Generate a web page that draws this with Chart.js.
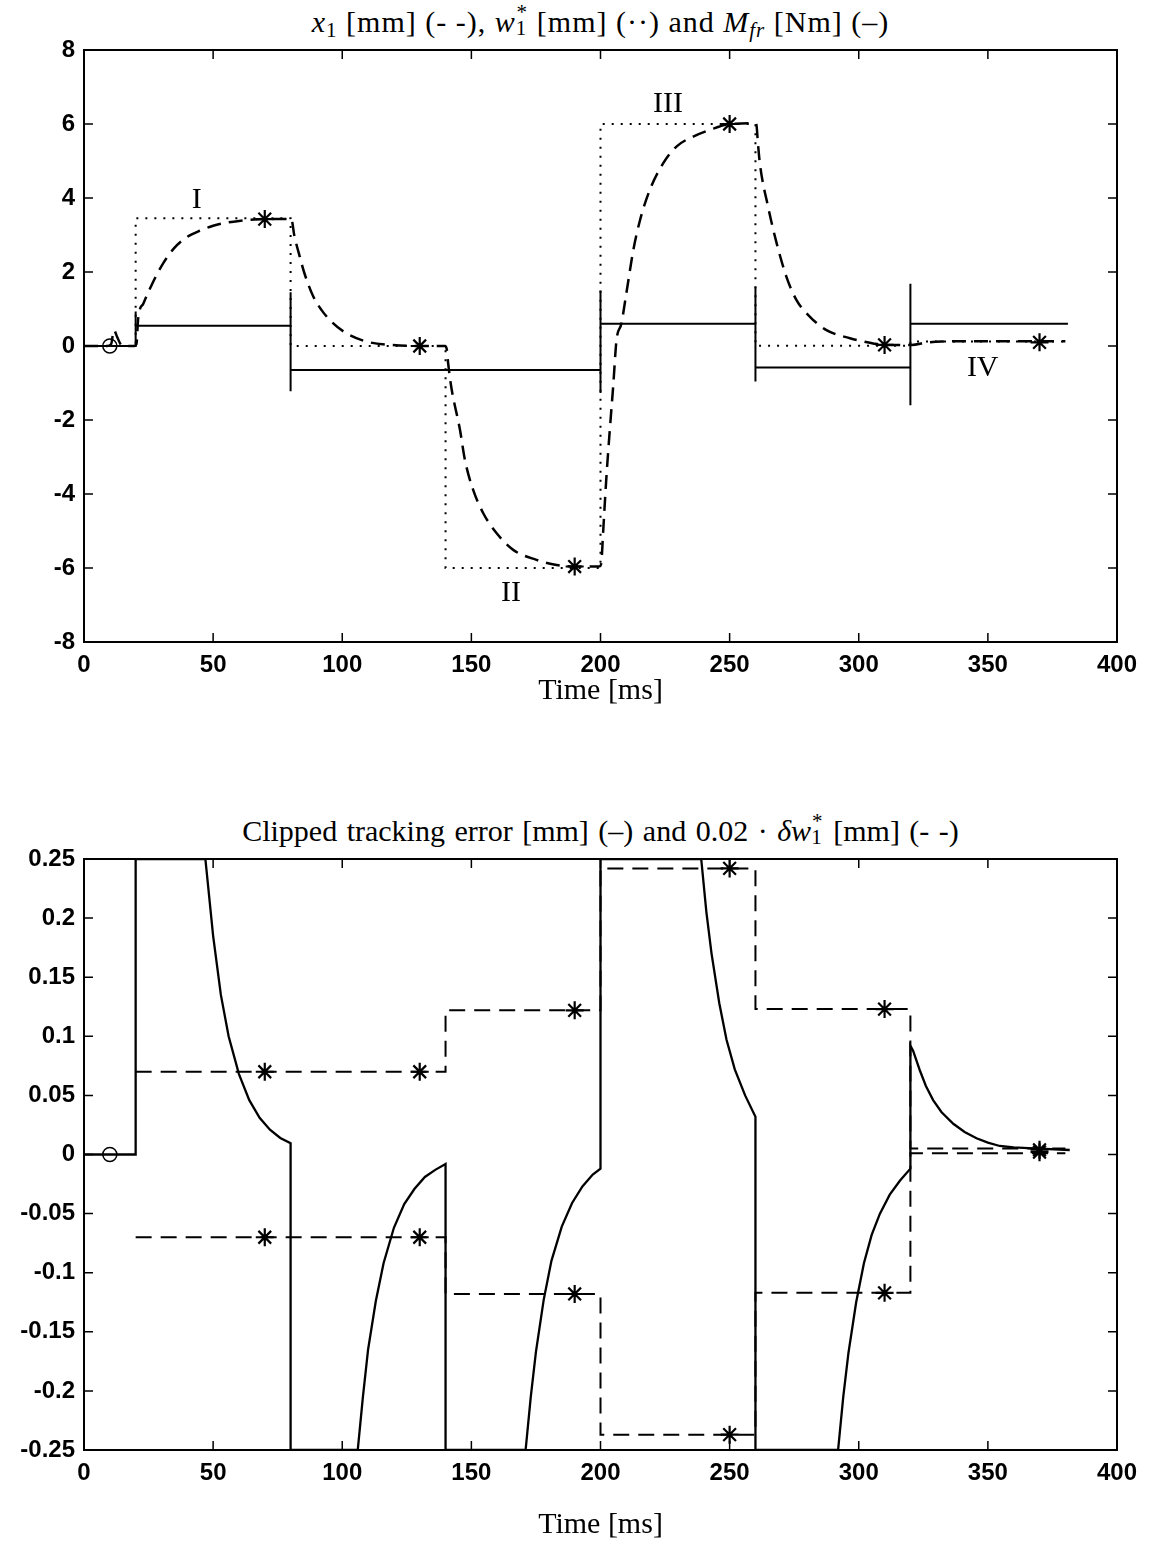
<!DOCTYPE html>
<html><head><meta charset="utf-8">
<script src="https://cdn.jsdelivr.net/npm/chart.js@4.4.1/dist/chart.umd.min.js"></script>
<style>
html,body{margin:0;padding:0;background:#fff;}
body{width:1154px;height:1545px;position:relative;overflow:hidden;}
canvas{position:absolute;left:0;}
.ttl{position:absolute;left:84px;width:1033px;text-align:center;font-family:"Liberation Serif",serif;font-size:30px;line-height:30px;color:#000;white-space:nowrap;}
.ttl sub{font-size:0.7em;vertical-align:-0.25em;line-height:0;}
.ss{display:inline-block;position:relative;width:0.42em;height:1em;vertical-align:baseline;}
.ss .up{position:absolute;left:0.04em;top:-0.02em;font-size:0.7em;line-height:1;}
.ss .dn{position:absolute;left:0;top:0.74em;font-size:0.7em;line-height:1;}
</style></head><body>
<div class="ttl" style="top:2px;letter-spacing:1px"><i>x</i><sub>1</sub> [mm] (- -), <i>w</i><span class="ss"><span class="up">*</span><span class="dn">1</span></span> [mm] (··) and <i>M</i><sub><i>fr</i></sub> [Nm] (–)</div>
<canvas id="c1" width="1154" height="742" style="top:0"></canvas>
<div class="ttl" style="top:811px;word-spacing:2px">Clipped tracking error [mm] (–) and 0.02 · <i>δw</i><span class="ss"><span class="up">*</span><span class="dn">1</span></span> [mm] (- -)</div>
<canvas id="c2" width="1154" height="775" style="top:770px"></canvas>
<script>
// ---------- shared axis ticks ----------
const xTicks = [0, 50, 100, 150, 200, 250, 300, 350, 400];
const xTickLabels = ['0', '50', '100', '150', '200', '250', '300', '350', '400'];

// ---------- top plot ----------
const yTicksTop = [-8, -6, -4, -2, 0, 2, 4, 6, 8];
const yTickLabelsTop = ['-8', '-6', '-4', '-2', '0', '2', '4', '6', '8'];

// x1 [mm] (dashed)
const x1T = [0, 9, 10.5, 11.6, 12.8, 14.6, 19.5, 20.3, 21, 23, 26.2, 30.7, 35, 40, 45, 50, 55, 60, 70, 80.3, 81.4, 83.6, 85.2, 88.7, 92, 95.8, 101.7, 109.4, 118.5, 130, 139.8, 140.5, 141, 142.2, 145.6, 147.5, 150.7, 154.6, 159.8, 166.2, 175.2, 183, 190.7, 199.8, 200.4, 201, 202.3, 203.6, 204.9, 206.2, 208.1, 210, 212.7, 215.3, 219.1, 224.3, 229.4, 235.9, 242.3, 250, 259.5, 260.3, 261, 261.7, 264.9, 268.2, 272, 275.9, 281.1, 287.5, 296.6, 305.6, 310, 320.5, 326, 332, 350, 380];
const x1V = [0, 0, 0.05, 0.43, 0.25, 0.02, 0, 0.05, 0.76, 1.15, 1.65, 2.24, 2.65, 2.95, 3.12, 3.25, 3.33, 3.38, 3.43, 3.43, 3.0, 2.4, 2.0, 1.35, 0.97, 0.66, 0.34, 0.12, 0.03, 0.0, 0.0, -0.1, -0.46, -1.1, -2.27, -3.08, -3.89, -4.52, -5.06, -5.51, -5.78, -5.92, -5.96, -5.95, -5.8, -5.06, -3.53, -2.27, -1.1, 0.16, 0.61, 1.42, 2.59, 3.4, 4.22, 4.94, 5.39, 5.66, 5.84, 6.0, 6.02, 6.0, 5.45, 4.94, 3.76, 2.78, 1.87, 1.24, 0.79, 0.43, 0.21, 0.07, 0.03, 0.03, 0.09, 0.12, 0.13, 0.13];

// w1* [mm] (dotted)
const wT = [0, 20, 20, 80, 80, 140, 140, 200, 200, 260, 260, 320, 320, 380];
const wV = [0, 0, 3.45, 3.45, 0, 0, -6, -6, 6, 6, 0.01, 0.01, 0.12, 0.12];

// M_fr [Nm] (solid)
const mT = [0, 20, 20, 20, 80, 80, 80, 80, 200, 200, 200, 200, 260, 260, 260, 260, 320, 320, 320, 320, 381];
const mV = [0, 0, 0.93, 0.55, 0.55, 1.45, -1.22, -0.65, -0.65, 1.5, -1.27, 0.6, 0.6, 1.6, -0.96, -0.58, -0.58, 1.68, -1.6, 0.6, 0.6];

// markers
const starTopT = [70, 130, 190, 250, 310, 370];
const starTopV = [3.43, 0.0, -5.96, 6.0, 0.03, 0.1];
const circT = [10];
const circV = [0];

// region labels
const regionText = ['I', 'II', 'III', 'IV'];
const regionT = [43.7, 165.3, 226.1, 348];
const regionV = [3.95, -6.68, 6.54, -0.6];

// ---------- bottom plot ----------
const yTicksBot = [-0.25, -0.2, -0.15, -0.1, -0.05, 0, 0.05, 0.1, 0.15, 0.2, 0.25];
const yTickLabelsBot = ['-0.25', '-0.2', '-0.15', '-0.1', '-0.05', '0', '0.05', '0.1', '0.15', '0.2', '0.25'];

// clipped tracking error (solid)
const eT = [0, 20, 20, 47, 50, 53, 56, 60, 64, 68, 72, 76, 80, 80, 106, 108, 110, 113, 116, 120, 124, 128, 132, 136, 140, 140, 171, 173, 175, 178, 181, 185, 189, 193, 197, 200, 200, 239, 241, 243, 246, 248.8, 252, 256, 260, 260, 292, 294, 296, 299, 302, 305, 308.2, 312, 316, 320, 320, 321, 323.6, 326, 328.8, 332, 336.6, 341, 345.6, 350, 354.6, 360, 367.5, 381.7];
const eV = [0, 0, 0.25, 0.25, 0.185, 0.135, 0.1, 0.068, 0.046, 0.031, 0.021, 0.014, 0.0095, -0.25, -0.25, -0.205, -0.165, -0.124, -0.092, -0.062, -0.042, -0.029, -0.019, -0.013, -0.008, -0.25, -0.25, -0.205, -0.167, -0.123, -0.09, -0.061, -0.041, -0.027, -0.017, -0.012, 0.25, 0.25, 0.205, 0.17, 0.128, 0.097, 0.072, 0.05, 0.032, -0.25, -0.25, -0.205, -0.168, -0.125, -0.092, -0.068, -0.05, -0.034, -0.022, -0.012, 0.092, 0.088, 0.0715, 0.058, 0.046, 0.036, 0.026, 0.019, 0.0137, 0.010, 0.0072, 0.006, 0.0052, 0.0038];

// 0.02 * delta w1* (dashed, upper and lower bound)
const dT = [20, 140, 140, 200, 200, 260, 260, 320, 320, 380];
const dUpV = [0.07, 0.07, 0.122, 0.122, 0.242, 0.242, 0.123, 0.123, 0.005, 0.005];
const dLoV = [-0.07, -0.07, -0.118, -0.118, -0.237, -0.237, -0.117, -0.117, 0.001, 0.001];

const starBotT = [70, 130, 190, 250, 310, 370];
const starBotUpV = [0.07, 0.07, 0.122, 0.242, 0.123, 0.004];
const starBotLoV = [-0.07, -0.07, -0.118, -0.237, -0.117, 0.002];

// ---------- helpers ----------
const zip = (t, v) => t.map((x, i) => ({x: x, y: v[i]}));
const tickFont = {family: '"Liberation Sans", Arial, sans-serif', size: 24, weight: 'bold'};
const titleFont = {family: '"Liberation Serif", serif', size: 30};

const boxPlugin = {
  id: 'boxTicks',
  afterDatasetsDraw(chart) {
    const {ctx, chartArea: a, scales} = chart;
    ctx.save();
    ctx.strokeStyle = '#000';
    ctx.lineWidth = 1.5;
    const L = 9;
    scales.x.ticks.forEach(t => {
      const px = scales.x.getPixelForValue(t.value);
      ctx.beginPath();
      ctx.moveTo(px, a.bottom); ctx.lineTo(px, a.bottom - L);
      ctx.moveTo(px, a.top); ctx.lineTo(px, a.top + L);
      ctx.stroke();
    });
    scales.y.ticks.forEach(t => {
      const py = scales.y.getPixelForValue(t.value);
      ctx.beginPath();
      ctx.moveTo(a.left, py); ctx.lineTo(a.left + L, py);
      ctx.moveTo(a.right, py); ctx.lineTo(a.right - L, py);
      ctx.stroke();
    });
    ctx.lineWidth = 2;
    ctx.strokeRect(a.left, a.top, a.right - a.left, a.bottom - a.top);
    ctx.restore();
  }
};

const regionPlugin = {
  id: 'regions',
  afterDatasetsDraw(chart) {
    const {ctx, scales} = chart;
    ctx.save();
    ctx.fillStyle = '#000';
    ctx.font = '30px "Liberation Serif", serif';
    ctx.textAlign = 'center';
    ctx.textBaseline = 'middle';
    regionText.forEach((s, i) => {
      ctx.fillText(s, scales.x.getPixelForValue(regionT[i]), scales.y.getPixelForValue(regionV[i]));
    });
    ctx.restore();
  }
};

function makeScales(yMin, yMax, yTicks, yLabels, xHeight, titlePadBottom) {
  return {
    x: {
      type: 'linear', min: 0, max: 400,
      afterBuildTicks: s => { s.ticks = xTicks.map(v => ({value: v})); },
      afterFit: s => { s.height = xHeight; },
      grid: {display: false, drawTicks: false},
      border: {display: false},
      ticks: {font: tickFont, color: '#000', padding: 9, maxRotation: 0, autoSkip: false,
              callback: (v, i) => xTickLabels[i]},
      title: {display: true, text: 'Time [ms]', color: '#000', font: titleFont,
              padding: {top: 0, bottom: titlePadBottom}}
    },
    y: {
      type: 'linear', min: yMin, max: yMax,
      afterBuildTicks: s => { s.ticks = yTicks.map(v => ({value: v})); },
      afterFit: s => { s.width = 84; },
      grid: {display: false, drawTicks: false},
      border: {display: false},
      ticks: {font: tickFont, color: '#000', padding: 9, autoSkip: false,
              callback: (v, i) => yLabels[i]}
    }
  };
}

const common = {
  responsive: false, animation: false, devicePixelRatio: 1,
  plugins: {legend: {display: false}, tooltip: {enabled: false}, title: {display: false}},
  elements: {point: {radius: 0}}
};

const lineDs = (data, dash, width) => ({
  data: data, showLine: true, borderColor: '#000', borderWidth: width, borderDash: dash,
  pointRadius: 0, fill: false, tension: 0
});
const markDs = (data, style, r) => ({
  data: data, showLine: false, pointStyle: style, pointRadius: r, borderColor: '#000',
  backgroundColor: 'rgba(0,0,0,0)', pointBorderWidth: 2.2, pointBackgroundColor: 'rgba(0,0,0,0)'
});

// ---------- top chart ----------
new Chart(document.getElementById('c1'), {
  type: 'scatter',
  data: {datasets: [
    lineDs(zip(mT, mV), [], 2),
    lineDs(zip(wT, wV), [2, 7], 2),
    Object.assign(lineDs(zip(x1T, x1V), [14, 8], 2.5), {cubicInterpolationMode: 'monotone'}),
    markDs(zip(starTopT, starTopV), 'star', 9),
    Object.assign(markDs(zip(circT, circV), 'circle', 7), {pointBorderWidth: 1.5})
  ]},
  options: Object.assign({}, common, {
    layout: {padding: {top: 50, right: 37, left: 0, bottom: 0}},
    scales: makeScales(-8, 8, yTicksTop, yTickLabelsTop, 100, 33)
  }),
  plugins: [boxPlugin, regionPlugin]
});

// ---------- bottom chart ----------
new Chart(document.getElementById('c2'), {
  type: 'scatter',
  data: {datasets: [
    lineDs(zip(eT, eV), [], 2.3),
    lineDs(zip(dT, dUpV), [16, 9], 2),
    lineDs(zip(dT, dLoV), [16, 9], 2),
    markDs(zip(starBotT, starBotUpV), 'star', 9),
    markDs(zip(starBotT, starBotLoV), 'star', 9),
    Object.assign(markDs(zip(circT, circV), 'circle', 7), {pointBorderWidth: 1.5})
  ]},
  options: Object.assign({}, common, {
    layout: {padding: {top: 89, right: 37, left: 0, bottom: 0}},
    scales: makeScales(-0.25, 0.25, yTicksBot, yTickLabelsBot, 95, 2)
  }),
  plugins: [boxPlugin]
});
</script>
</body></html>
